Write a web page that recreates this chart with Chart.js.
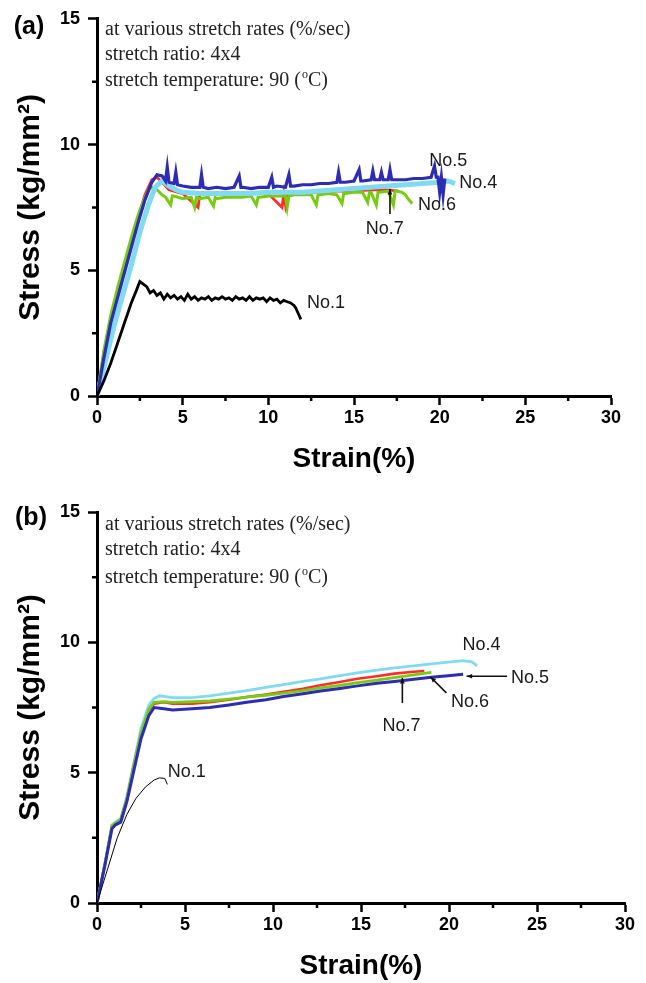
<!DOCTYPE html>
<html>
<head>
<meta charset="utf-8">
<script src="https://cdn.jsdelivr.net/npm/chart.js@4.4.0/dist/chart.umd.min.js"></script>
<style>
  body { margin: 0; background: #fff; }
  #wrap { position: relative; width: 646px; height: 983px; }
  #chartA { position: absolute; left: 0; top: 0; }
  #chartB { position: absolute; left: 0; top: 480px; }
</style>
</head>
<body>
<div id="wrap">
  <canvas id="chartA" width="646" height="480"></canvas>
  <canvas id="chartB" width="646" height="503"></canvas>
</div>
<script>
// ---- panel (a) ----
const strainA1 = [0, 0.4, 0.8, 1.2, 1.6, 2.0, 2.3, 2.5, 2.7, 2.9, 3.1, 3.3, 3.5, 3.7, 3.9, 4.1, 4.3, 4.5, 4.7, 4.9,
  5.1, 5.3, 5.5, 5.7, 5.9, 6.1, 6.3, 6.5, 6.7, 6.9, 7.1, 7.3, 7.5, 7.7, 7.9, 8.1, 8.3, 8.5, 8.7, 8.9,
  9.1, 9.3, 9.5, 9.7, 9.9, 10.1, 10.3, 10.5, 10.7, 10.9, 11.1, 11.3, 11.5, 11.6, 11.7, 11.8, 11.9];
const stressA1 = [0, 0.6, 1.3, 2.1, 2.9, 3.7, 4.2, 4.55, 4.45, 4.35, 4.1, 4.2, 4.0, 4.1, 3.85, 4.05, 3.9, 4.0, 3.85, 3.95,
  3.8, 4.05, 3.85, 3.95, 3.8, 3.9, 3.85, 3.95, 3.8, 3.9, 3.85, 3.95, 3.85, 3.9, 3.8, 3.95, 3.85, 3.9, 3.8, 3.95,
  3.8, 3.9, 3.85, 3.9, 3.75, 3.9, 3.8, 3.85, 3.7, 3.8, 3.75, 3.7, 3.6, 3.5, 3.35, 3.2, 3.05];

const strainA5 = [0, 0.4, 0.8, 1.2, 1.6, 2.0, 2.4, 2.8, 3.2, 3.5, 3.8, 4.0, 4.1, 4.2, 4.5, 4.6, 4.7, 5.0, 5.5, 6.0,
  6.1, 6.2, 6.5, 7.0, 7.5, 8.0, 8.3, 8.4, 8.5, 9.0, 9.5, 10.0, 10.2, 10.3, 10.5, 11.0, 11.2, 11.3, 11.5, 12.0,
  12.5, 13.0, 13.5, 14.0, 14.1, 14.2, 14.5, 15.0, 15.3, 15.4, 15.5, 16.0, 16.1, 16.2, 16.5, 16.6, 16.7, 17.0, 17.1, 17.2,
  17.5, 18.0, 18.5, 19.0, 19.5, 19.7, 19.8, 19.9, 20.0, 20.1, 20.2, 20.3];
const stressA5 = [0, 1.5, 2.9, 3.9, 4.9, 5.9, 6.9, 7.8, 8.5, 8.8, 8.75, 8.55, 9.1, 8.5, 8.45, 8.9, 8.4, 8.35, 8.3, 8.3,
  8.8, 8.3, 8.25, 8.3, 8.25, 8.3, 8.75, 8.3, 8.3, 8.25, 8.3, 8.3, 8.7, 8.3, 8.35, 8.3, 8.8, 8.35, 8.35, 8.4,
  8.4, 8.45, 8.45, 8.5, 8.9, 8.5, 8.5, 8.55, 9.0, 8.55, 8.55, 8.6, 8.95, 8.6, 8.6, 8.9, 8.6, 8.6, 9.0, 8.6,
  8.6, 8.6, 8.65, 8.65, 8.7, 9.15, 8.7, 8.7, 8.1, 8.7, 8.0, 8.65];

const strainA6 = [0, 0.4, 0.8, 1.2, 1.6, 2.0, 2.4, 2.8, 3.0, 3.2, 3.5, 3.8, 4.0, 4.3, 4.4, 4.5, 5.0, 5.5, 5.7, 5.8,
  6.0, 6.5, 6.8, 6.9, 7.0, 7.5, 8.0, 8.5, 9.0, 9.3, 9.4, 9.5, 10.0, 10.5, 11.0, 11.1, 11.2, 11.5, 12.0, 12.5,
  12.8, 12.9, 13.0, 13.5, 14.0, 14.3, 14.4, 14.5, 15.0, 15.5, 15.8, 15.9, 16.0, 16.3, 16.4, 16.5, 17.0, 17.3, 17.4, 17.5,
  17.8, 18.0, 18.2, 18.4];
const stressA6 = [0, 1.8, 3.2, 4.3, 5.3, 6.3, 7.2, 7.9, 8.2, 8.3, 8.2, 8.0, 7.9, 7.6, 7.95, 7.95, 7.85, 7.9, 7.5, 7.9,
  7.85, 7.9, 7.55, 7.9, 7.85, 7.9, 7.9, 7.9, 7.95, 7.6, 7.9, 7.9, 7.95, 7.95, 7.95, 7.5, 7.95, 8.0, 8.0, 8.0,
  7.6, 8.0, 8.0, 8.05, 8.0, 7.65, 8.05, 8.05, 8.1, 8.1, 7.7, 8.1, 8.1, 7.6, 8.1, 8.1, 8.15, 7.6, 8.15, 8.15,
  8.1, 8.0, 7.8, 7.65];

const strainA7 = [0, 0.4, 0.8, 1.2, 1.6, 2.0, 2.4, 2.8, 3.2, 3.5, 3.8, 4.2, 5.0, 5.9, 6.0, 7.0, 8.0, 9.0, 10.0, 10.8,
  10.9, 11.0, 11.1, 12.0, 13.0, 14.0, 15.0, 16.0, 17.0, 17.6];
const stressA7 = [0, 1.7, 3.1, 4.2, 5.2, 6.2, 7.1, 8.0, 8.6, 8.7, 8.5, 8.2, 8.05, 7.5, 8.05, 8.05, 8.05, 8.05, 8.05, 7.5,
  8.05, 7.6, 8.05, 8.1, 8.1, 8.15, 8.15, 8.2, 8.2, 8.15];

const strainA4 = [0, 0.5, 1.0, 1.5, 2.0, 2.5, 3.0, 3.4, 3.8, 4.2, 4.6, 5, 6, 7, 8, 9, 10, 11, 12, 13,
  14, 15, 16, 17, 18, 19, 20, 20.5, 20.9];
const stressA4 = [0, 1.4, 2.8, 4.0, 5.2, 6.5, 7.6, 8.3, 8.55, 8.35, 8.2, 8.1, 8.05, 8.05, 8.05, 8.05, 8.1, 8.1, 8.1, 8.15,
  8.2, 8.25, 8.3, 8.35, 8.4, 8.45, 8.5, 8.55, 8.45];

// ---- panel (b) ----
const strainB1 = [0, 0.6, 1.15, 1.7, 2.2, 2.75, 3.25, 3.55, 3.85, 4.0];
const stressB1 = [0, 1.3, 2.5, 3.4, 4.0, 4.45, 4.72, 4.8, 4.78, 4.55];

const strainB4 = [0, 0.45, 0.85, 1.05, 1.35, 1.7, 2.1, 2.5, 2.95, 3.25, 3.55, 4.3, 5.4, 6.4, 7.5, 8.5, 9.6, 10.6, 11.7, 12.7,
  13.8, 14.8, 15.9, 16.9, 18.0, 19.0, 20.1, 20.8, 21.3, 21.6];
const stressB4 = [0, 1.5, 3.0, 3.1, 3.25, 4.1, 5.4, 6.7, 7.6, 7.85, 7.95, 7.88, 7.88, 7.95, 8.05, 8.15, 8.27, 8.38, 8.5, 8.6,
  8.72, 8.83, 8.93, 9.02, 9.1, 9.17, 9.25, 9.3, 9.25, 9.1];

const strainB7 = [0, 0.45, 0.85, 1.05, 1.35, 1.7, 2.1, 2.5, 2.95, 3.25, 3.8, 4.3, 5.4, 6.4, 7.5, 8.5, 9.6, 10.6, 11.7, 12.7,
  13.8, 14.8, 15.9, 16.9, 18.0, 18.6];
const stressB7 = [0, 1.5, 2.95, 3.05, 3.2, 4.0, 5.3, 6.5, 7.4, 7.65, 7.7, 7.65, 7.65, 7.7, 7.8, 7.9, 8.0, 8.1, 8.22, 8.35,
  8.48, 8.6, 8.7, 8.8, 8.87, 8.9];

const strainB6 = [0, 0.45, 0.85, 1.05, 1.35, 1.7, 2.1, 2.5, 2.95, 3.25, 3.8, 4.3, 5.4, 6.4, 7.5, 8.5, 9.6, 10.6, 11.7, 12.7,
  13.8, 14.8, 15.9, 16.9, 18.0, 19.0];
const stressB6 = [0, 1.5, 2.95, 3.05, 3.2, 4.0, 5.3, 6.5, 7.45, 7.7, 7.72, 7.7, 7.72, 7.75, 7.82, 7.9, 7.97, 8.05, 8.15, 8.25,
  8.35, 8.45, 8.55, 8.65, 8.75, 8.85];

const strainB5 = [0, 0.45, 0.85, 1.05, 1.35, 1.7, 2.1, 2.5, 2.95, 3.25, 3.8, 4.3, 5.4, 6.4, 7.5, 8.5, 9.6, 10.6, 11.7, 12.7,
  13.8, 14.8, 15.9, 16.9, 18.0, 19.0, 20.1, 20.8];
const stressB5 = [0, 1.45, 2.85, 3.0, 3.1, 3.9, 5.1, 6.3, 7.2, 7.5, 7.45, 7.4, 7.45, 7.5, 7.6, 7.7, 7.8, 7.92, 8.03, 8.13,
  8.23, 8.33, 8.43, 8.5, 8.58, 8.66, 8.73, 8.78];

const conditionLines = ['at various stretch rates (%/sec)', 'stretch ratio: 4x4', 'stretch temperature: 90 ('];

const sans = '"Liberation Sans", Arial, sans-serif';
const serif = '"Liberation Serif", "Times New Roman", serif';

const colors = {
  black: '#000000',
  red: '#ff2a2a',
  green: '#78cc10',
  blue: '#2c2cb4',
  cyan: '#80daf2'
};

function pairs(xs, ys) {
  return xs.map((x, i) => ({ x: x, y: ys[i] }));
}

function lineSet(label, xs, ys, color, width) {
  return {
    label: label,
    data: pairs(xs, ys),
    borderColor: color,
    backgroundColor: color,
    borderWidth: width,
    showLine: true,
    pointRadius: 0,
    tension: 0,
    fill: false
  };
}

const minorTicks = {
  id: 'minorTicks',
  afterDraw(chart) {
    const ctx = chart.ctx;
    const xs = chart.scales.x, ys = chart.scales.y;
    const area = chart.chartArea;
    ctx.save();
    ctx.strokeStyle = '#000';
    ctx.lineWidth = 2.5;
    ctx.beginPath();
    for (let v = 2.5; v < 30; v += 5) {
      const px = xs.getPixelForValue(v);
      ctx.moveTo(px, area.bottom);
      ctx.lineTo(px, area.bottom + 5);
    }
    for (let v = 2.5; v < 15; v += 5) {
      const py = ys.getPixelForValue(v);
      ctx.moveTo(area.left, py);
      ctx.lineTo(area.left - 5, py);
    }
    ctx.stroke();
    ctx.restore();
  }
};

function arrowLine(ctx, x1, y1, x2, y2) {
  // line from (x1,y1) to (x2,y2), head at the second point
  const ang = Math.atan2(y2 - y1, x2 - x1);
  ctx.beginPath();
  ctx.moveTo(x1, y1);
  ctx.lineTo(x2, y2);
  ctx.stroke();
  ctx.beginPath();
  ctx.moveTo(x2, y2);
  ctx.lineTo(x2 - 6 * Math.cos(ang - 0.4), y2 - 6 * Math.sin(ang - 0.4));
  ctx.lineTo(x2 - 6 * Math.cos(ang + 0.4), y2 - 6 * Math.sin(ang + 0.4));
  ctx.closePath();
  ctx.fill();
}

const notes = {
  id: 'notes',
  afterDraw(chart, args, opts) {
    const ctx = chart.ctx;
    const xs = chart.scales.x, ys = chart.scales.y;
    const area = chart.chartArea;
    ctx.save();

    ctx.fillStyle = '#000';
    ctx.font = `bold 25px ${sans}`;
    ctx.textAlign = 'center';
    ctx.textBaseline = 'middle';
    ctx.fillText(opts.panel, opts.panelX, opts.panelY);

    ctx.fillStyle = '#222';
    ctx.font = `20px ${serif}`;
    ctx.textAlign = 'left';
    const tx = area.left + 8;
    conditionLines.forEach((line, i) => {
      ctx.fillText(line, tx, area.top + opts.lineOffsets[i]);
    });
    const lastY = area.top + opts.lineOffsets[2];
    let cx = tx + ctx.measureText(conditionLines[2]).width;
    ctx.font = `12px ${serif}`;
    ctx.fillText('o', cx + 1, lastY - 6);
    cx += ctx.measureText('o').width + 1;
    ctx.font = `20px ${serif}`;
    ctx.fillText('C)', cx, lastY);

    ctx.fillStyle = '#1a1a1a';
    ctx.font = `18px ${sans}`;
    ctx.textAlign = 'center';
    opts.labels.forEach(l => {
      ctx.fillText(l.text, xs.getPixelForValue(l.x), ys.getPixelForValue(l.y));
    });

    ctx.strokeStyle = '#111';
    ctx.fillStyle = '#111';
    ctx.lineWidth = 1.6;
    opts.arrows.forEach(a => {
      arrowLine(ctx, xs.getPixelForValue(a.x1), ys.getPixelForValue(a.y1),
        xs.getPixelForValue(a.x2), ys.getPixelForValue(a.y2));
    });
    ctx.restore();
  }
};

function axes(xAxisHeight, xTitlePad) {
  const tickFont = { family: sans, size: 18, weight: 'bold' };
  return {
    x: {
      type: 'linear', min: 0, max: 30,
      ticks: {
        stepSize: 2.5, autoSkip: false, maxRotation: 0, padding: 2, color: '#000', font: tickFont,
        callback: v => (v % 5 === 0 ? String(v) : '')
      },
      grid: {
        drawOnChartArea: false, tickLength: 9, tickWidth: 2.5,
        tickColor: c => (c.tick && c.tick.value % 5 === 0 ? '#000' : 'rgba(0,0,0,0)')
      },
      border: { color: '#000', width: 3 },
      title: {
        display: true, text: 'Strain(%)', color: '#000',
        font: { family: sans, size: 28, weight: 'bold' }, padding: { top: 0, bottom: xTitlePad }
      },
      afterFit: s => { s.height = xAxisHeight; }
    },
    y: {
      type: 'linear', min: 0, max: 15,
      ticks: {
        stepSize: 2.5, autoSkip: false, padding: 8, color: '#000', font: tickFont,
        callback: v => (v % 5 === 0 ? String(v) : '')
      },
      grid: {
        drawOnChartArea: false, tickLength: 9, tickWidth: 2.5,
        tickColor: c => (c.tick && c.tick.value % 5 === 0 ? '#000' : 'rgba(0,0,0,0)')
      },
      border: { color: '#000', width: 3 },
      title: {
        display: true, text: 'Stress (kg/mm²)', color: '#000',
        font: { family: sans, size: 30, weight: 'bold' }, padding: { top: 13, bottom: 0 }
      },
      afterFit: s => { s.width = 97; }
    }
  };
}

new Chart('chartA', {
  type: 'scatter',
  data: {
    datasets: [
      lineSet('No.1', strainA1, stressA1, colors.black, 2.8),
      lineSet('No.5', strainA5, stressA5, colors.blue, 3.2),
      lineSet('No.4', strainA4, stressA4, colors.cyan, 5),
      lineSet('No.6', strainA6, stressA6, colors.green, 3),
      lineSet('No.7', strainA7, stressA7, colors.red, 2.8)
    ]
  },
  options: {
    responsive: false,
    animation: false,
    layout: { padding: { top: 17, right: 35, bottom: 0, left: 0 } },
    scales: axes(84, 4),
    plugins: {
      legend: { display: false },
      tooltip: { enabled: false },
      notes: {
        panel: '(a)', panelX: 29, panelY: 27,
        lineOffsets: [11, 36, 62],
        labels: [
          { text: 'No.5', x: 20.5, y: 9.34 },
          { text: 'No.4', x: 22.25, y: 8.47 },
          { text: 'No.6', x: 19.85, y: 7.6 },
          { text: 'No.7', x: 16.8, y: 6.65 },
          { text: 'No.1', x: 13.37, y: 3.68 }
        ],
        arrows: [
          { x1: 17.1, y1: 7.24, x2: 17.1, y2: 8.23 }
        ]
      }
    }
  },
  plugins: [minorTicks, notes]
});

new Chart('chartB', {
  type: 'scatter',
  data: {
    datasets: [
      lineSet('No.1', strainB1, stressB1, colors.black, 1),
      lineSet('No.5', strainB5, stressB5, colors.blue, 3),
      lineSet('No.6', strainB6, stressB6, colors.green, 2.8),
      lineSet('No.7', strainB7, stressB7, colors.red, 2.6),
      lineSet('No.4', strainB4, stressB4, colors.cyan, 2.8)
    ]
  },
  options: {
    responsive: false,
    animation: false,
    layout: { padding: { top: 32, right: 21, bottom: 0, left: 0 } },
    scales: axes(80, 0),
    plugins: {
      legend: { display: false },
      tooltip: { enabled: false },
      notes: {
        panel: '(b)', panelX: 31, panelY: 38,
        lineOffsets: [13, 38, 66],
        labels: [
          { text: 'No.4', x: 21.85, y: 9.9 },
          { text: 'No.5', x: 24.6, y: 8.63 },
          { text: 'No.6', x: 21.2, y: 7.71 },
          { text: 'No.7', x: 17.3, y: 6.8 },
          { text: 'No.1', x: 5.1, y: 5.02 }
        ],
        arrows: [
          { x1: 23.3, y1: 8.7, x2: 21.0, y2: 8.7 },
          { x1: 19.85, y1: 8.06, x2: 18.95, y2: 8.67 },
          { x1: 17.35, y1: 7.67, x2: 17.35, y2: 8.63 }
        ]
      }
    }
  },
  plugins: [minorTicks, notes]
});
</script>
</body>
</html>
